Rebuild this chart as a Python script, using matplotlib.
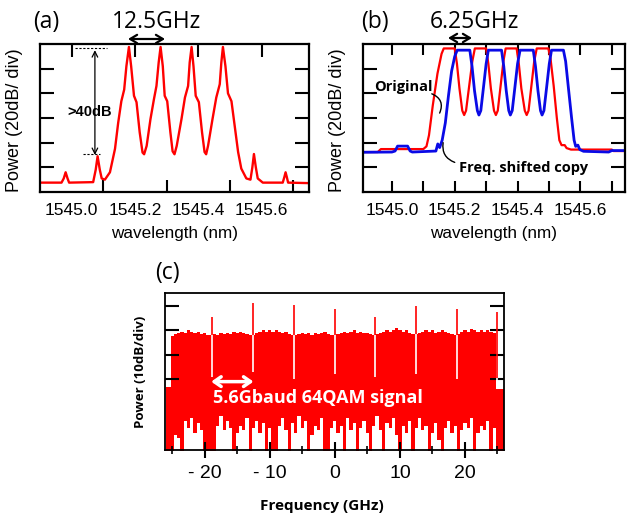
import numpy as np
import matplotlib
matplotlib.use("Agg")
import matplotlib.pyplot as plt

plt.rcParams['font.family'] = ['Liberation Sans', 'DejaVu Sans']

# (a) optical comb spectrum, power in divisions (20 dB/div)
wl_a = [1544.900, 1544.968, 1544.975, 1544.981, 1544.987, 1544.992, 1545.068, 1545.076,
        1545.082, 1545.089, 1545.095, 1545.105, 1545.121, 1545.137, 1545.147, 1545.157,
        1545.166, 1545.173, 1545.181, 1545.188, 1545.197, 1545.205, 1545.215, 1545.224,
        1545.229, 1545.237, 1545.249, 1545.260, 1545.268, 1545.275, 1545.281, 1545.288,
        1545.294, 1545.302, 1545.312, 1545.319, 1545.325, 1545.332, 1545.347, 1545.358,
        1545.368, 1545.373, 1545.379, 1545.385, 1545.392, 1545.402, 1545.412, 1545.420,
        1545.425, 1545.431, 1545.445, 1545.457, 1545.468, 1545.473, 1545.478, 1545.486,
        1545.494, 1545.505, 1545.515, 1545.526, 1545.536, 1545.552, 1545.565, 1545.571,
        1545.576, 1545.582, 1545.588, 1545.604, 1545.667, 1545.672, 1545.676, 1545.680,
        1545.684, 1545.750]
pw_a = [0.38, 0.38, 0.55, 0.80, 0.55, 0.38, 0.40, 0.90,
        1.45, 0.90, 0.55, 0.50, 0.80, 1.75, 2.80, 3.68,
        4.15, 5.10, 5.88, 5.10, 3.90, 3.64, 2.42, 1.60,
        1.53, 1.87, 2.95, 3.76, 4.30, 5.25, 5.88, 5.10,
        3.90, 3.68, 2.42, 1.65, 1.53, 1.87, 2.95, 3.83,
        4.30, 5.25, 5.88, 5.10, 3.90, 3.64, 2.42, 1.62,
        1.53, 1.87, 2.95, 3.83, 4.37, 5.25, 5.88, 5.10,
        4.00, 3.68, 2.70, 1.62, 0.95, 0.55, 0.50, 1.00,
        1.54, 1.00, 0.55, 0.38, 0.38, 0.60, 0.80, 0.60,
        0.38, 0.36]

# (b) original and frequency shifted copy
wl_orig = [1544.900, 1544.955, 1544.965, 1545.100, 1545.110, 1545.118, 1545.130, 1545.145,
           1545.158, 1545.165, 1545.200, 1545.207, 1545.215, 1545.224, 1545.230, 1545.236,
           1545.246, 1545.256, 1545.264, 1545.300, 1545.307, 1545.315, 1545.325, 1545.331,
           1545.337, 1545.346, 1545.355, 1545.362, 1545.397, 1545.404, 1545.412, 1545.423,
           1545.429, 1545.435, 1545.444, 1545.453, 1545.461, 1545.498, 1545.505, 1545.515,
           1545.525, 1545.533, 1545.540, 1545.550, 1545.556, 1545.570, 1545.700, 1545.705,
           1545.750]
pw_orig = [1.62, 1.62, 1.74, 1.74, 1.85, 2.30, 3.50, 4.80,
           5.60, 5.82, 5.82, 5.20, 4.20, 3.30, 3.12, 3.30,
           4.30, 5.30, 5.82, 5.82, 5.20, 4.20, 3.30, 3.12,
           3.30, 4.30, 5.30, 5.82, 5.82, 5.20, 4.20, 3.30,
           3.12, 3.30, 4.30, 5.30, 5.82, 5.82, 5.40, 4.30,
           3.00, 2.10, 1.90, 1.90, 1.78, 1.72, 1.72, 1.66,
           1.66]
wl_shift = [1544.900, 1545.000, 1545.010, 1545.018, 1545.050, 1545.058, 1545.065, 1545.140,
            1545.146, 1545.152, 1545.160, 1545.170, 1545.180, 1545.190, 1545.200, 1545.208,
            1545.248, 1545.255, 1545.263, 1545.272, 1545.277, 1545.283, 1545.292, 1545.300,
            1545.307, 1545.349, 1545.356, 1545.364, 1545.372, 1545.377, 1545.383, 1545.392,
            1545.400, 1545.408, 1545.450, 1545.457, 1545.465, 1545.473, 1545.478, 1545.484,
            1545.493, 1545.501, 1545.508, 1545.546, 1545.553, 1545.562, 1545.572, 1545.580,
            1545.585, 1545.592, 1545.598, 1545.610, 1545.690, 1545.700, 1545.750]
pw_shift = [1.61, 1.62, 1.66, 1.86, 1.86, 1.66, 1.62, 1.66,
            1.95, 1.80, 2.10, 2.80, 3.90, 4.90, 5.50, 5.75,
            5.75, 5.10, 4.10, 3.30, 3.12, 3.30, 4.30, 5.20,
            5.75, 5.75, 5.10, 4.10, 3.30, 3.12, 3.30, 4.30,
            5.20, 5.75, 5.75, 5.10, 4.10, 3.30, 3.12, 3.30,
            4.30, 5.20, 5.75, 5.75, 5.30, 4.20, 3.00, 2.10,
            1.85, 1.90, 1.72, 1.65, 1.62, 1.68, 1.68]

# (c) 64QAM electrical spectrum (dB), envelope sampled every 0.5 GHz
freq_ghz = np.arange(-26.0, 26.01, 0.5)
upper_db = [-33, -33, -12.5, -11.5, -11, -10.5, -11, -10, -10.5, -11,
            -10.5, -11.5, -11, -12, -12, -11.5, -12, -11, -11.5, -11,
            -11.5, -10.5, -11, -10.5, -11, -11.5, -12, -12, -11, -10.5,
            -10, -10.5, -10, -10.5, -10, -10.5, -11, -10.5, -11.5, -12,
            -12, -11.5, -11, -11.5, -11, -12, -11, -11.5, -11, -10.5,
            -11.5, -12, -12, -11.5, -11, -10.5, -11, -10.5, -10, -11,
            -10.5, -11, -11, -11.5, -12, -11.5, -11, -10.5, -10, -10.5,
            -10, -9, -10, -10.5, -10, -11, -11.5, -11.5, -11, -10.5,
            -10, -10.5, -10, -11, -10.5, -10, -10.5, -11, -11.5, -12,
            -11.5, -10.5, -10, -10.5, -9.5, -10, -10.5, -10, -10.5, -10,
            -10.5, -11, -34, -34, -34]
lower_db = [-60, -60, -60, -53, -54, -60, -47, -50, -46, -52,
            -48, -51, -60, -60, -60, -60, -49, -45, -51, -47,
            -50, -60, -52, -49, -51, -46, -60, -50, -47, -52,
            -48, -60, -50, -60, -60, -49, -46, -51, -60, -48,
            -52, -45, -50, -47, -60, -53, -49, -51, -46, -60,
            -60, -50, -47, -52, -49, -60, -46, -51, -48, -60,
            -50, -47, -52, -60, -49, -45, -51, -60, -48, -50,
            -46, -53, -60, -49, -52, -47, -60, -50, -46, -51,
            -49, -60, -52, -48, -55, -60, -50, -47, -52, -49,
            -60, -51, -48, -50, -46, -60, -52, -49, -51, -47,
            -60, -50, -60, -60, -60]
carrier_ghz = [-18.9, -12.6, -6.3, 0.0, 6.2, 12.4, 18.7, 24.9]
carrier_peak_db = [-4.6, 1.1, 0.4, -1.3, -4.4, 0.0, -1.2, -2.3]
notch_db = [-29, -27, -30, -28, -29, -28, -30, -34]

W, H = 627, 514
def fx(px):
    return px / W
def fy(py):
    return 1 - py / H

fig = plt.figure(figsize=(W / 100, H / 100), dpi=100)
ax_a = fig.add_axes([fx(40), fy(192), 269 / W, 148 / H])
ax_b = fig.add_axes([fx(362.7), fy(192), 262.3 / W, 148 / H])
ax_c = fig.add_axes([fx(165), fy(450), 339 / W, 157 / H])

major_wl = [1545.0, 1545.2, 1545.4, 1545.6]
minor_wl = [1545.1, 1545.3, 1545.5, 1545.7]
for ax in (ax_a, ax_b):
    ax.set_ylim(0, 6)
    ax.set_yticks([1, 2, 3, 4, 5])
    ax.set_xticks(major_wl)
    ax.set_xticklabels([f"{v:.1f}" for v in major_wl])
    ax.set_xticks(minor_wl, minor=True)
    ax.tick_params(axis='y', direction='in', left=True, right=True, length=10, width=1.5,
                   labelleft=False)
    for s in ax.spines.values():
        s.set_linewidth(1.6)

# (a)
ax_a.plot(wl_a, pw_a, color='#ff0000', lw=1.7)
ax_a.set_xlim(1544.90, 1545.75)
ax_a.tick_params(axis='x', which='major', direction='in', top=True, bottom=False,
                 length=9, width=1.5, labelsize=12.5, pad=8)
ax_a.tick_params(axis='x', which='minor', direction='in', top=False, bottom=True,
                 length=9, width=1.5)
ax_a.plot([1545.011, 1545.111], [5.82, 5.82], color='black', lw=0.8, ls=(0, (2, 1.5)))
ax_a.plot([1545.036, 1545.089], [1.53, 1.53], color='black', lw=0.8, ls=(0, (2, 1.5)))
ax_a.annotate('', xy=(1545.0735, 5.75), xytext=(1545.0735, 1.5),
              arrowprops=dict(arrowstyle='<->', lw=0.9, color='black',
                              shrinkA=0, shrinkB=0))
ax_a.text(1545.058, 3.24, '>40dB', ha='center', va='center', fontsize=10.5,
          fontweight='bold')

# (b)
ax_b.plot(wl_orig, pw_orig, color='#ff0000', lw=1.6)
ax_b.plot(wl_shift, pw_shift, color='#0a0ae6', lw=2)
ax_b.set_xlim(1544.907, 1545.742)
ax_b.tick_params(axis='x', which='both', direction='in', top=True, bottom=True,
                 length=8, width=1.5, labelsize=12.5, pad=8)
ax_b.text(1545.035, 4.25, 'Original', ha='center', va='center', fontsize=10.5,
          fontweight='bold', family='Open Sans')
ax_b.annotate('', xy=(1545.152, 3.2), xytext=(1545.127, 3.98),
              arrowprops=dict(arrowstyle='-', lw=1, color='black',
                              connectionstyle='arc3,rad=-0.5', shrinkA=0, shrinkB=0))
ax_b.text(1545.419, 0.97, 'Freq. shifted copy', ha='center', va='center',
          fontsize=10.5, fontweight='bold', family='Open Sans')
ax_b.annotate('', xy=(1545.163, 2.0), xytext=(1545.2, 1.2),
              arrowprops=dict(arrowstyle='-', lw=1, color='black',
                              connectionstyle='arc3,rad=-0.4', shrinkA=0, shrinkB=0))

# (c)
ax_c.fill_between(freq_ghz, lower_db, upper_db, step='mid', color='#ff0000', lw=0)
plateau = np.interp(carrier_ghz, freq_ghz, upper_db)
ax_c.vlines(carrier_ghz, notch_db, plateau, color='white', lw=1.2)
ax_c.vlines(carrier_ghz, plateau, carrier_peak_db, color='#ff0000', lw=1.2)
ax_c.set_xlim(-26.1, 26.0)
ax_c.set_ylim(-59, 5.3)
ax_c.set_xticks([-20, -10, 0, 10, 20])
ax_c.set_xticklabels(['- 20', '- 10', '0', '10', '20'])
ax_c.set_xticks([-25, -15, -5, 5, 15, 25], minor=True)
ax_c.tick_params(axis='x', which='major', direction='inout', length=12, width=1.5,
                 labelsize=14, pad=5)
ax_c.tick_params(axis='x', which='minor', direction='inout', length=6, width=1.2)
ax_c.set_yticks([-30, -20, -10, 0])
ax_c.tick_params(axis='y', direction='in', left=True, right=True, length=10, width=1.5,
                 labelleft=False)
for s in ax_c.spines.values():
    s.set_linewidth(1.3)
ax_c.annotate('', xy=(-12.5, -31.0), xytext=(-19.0, -31.0),
              arrowprops=dict(arrowstyle='<->,head_length=0.5,head_width=0.35',
                              lw=2.5, color='white', shrinkA=0, shrinkB=0))
ax_c.text(-2.65, -39.9, '5.6Gbaud 64QAM signal', ha='center', va='baseline',
          color='white', fontsize=13, fontweight='bold', family='Open Sans')

# panel titles and axis labels
cal = dict(family='Open Sans', fontsize=16.5, va='baseline', ha='center')
fig.text(fx(46), fy(28), '(a)', **cal)
fig.text(fx(157), fy(28), '12.5GHz', **cal)
fig.text(fx(375), fy(28), '(b)', **cal)
fig.text(fx(474), fy(28), '6.25GHz', **cal)
fig.text(fx(167), fy(279), '(c)', **cal)

for xc in (15, 338):
    fig.text(fx(xc), fy(120), 'Power (20dB/ div)', rotation=90, ha='center',
             va='center', fontsize=13)
for xc in (175, 494):
    fig.text(fx(xc), fy(238), 'wavelength (nm)', ha='center', va='baseline',
             fontsize=12.3)
fig.text(fx(140), fy(372), 'Power (10dB/div)', rotation=90, ha='center', va='center',
         fontsize=9.5, fontweight='bold', family='Open Sans')
fig.text(fx(322), fy(510), 'Frequency (GHz)', ha='center', va='baseline',
         fontsize=11, fontweight='bold', family='Open Sans')

# spacing arrows above (a) and (b)
arr = dict(arrowstyle='<->,head_length=0.5,head_width=0.3', lw=1.6, color='black',
           shrinkA=0, shrinkB=0)
fig.add_artist(plt.Annotation('', xy=(fx(165), fy(39)), xytext=(fx(128), fy(39)),
                              xycoords='figure fraction', arrowprops=arr))
fig.add_artist(plt.Annotation('', xy=(fx(472), fy(38)), xytext=(fx(448), fy(38)),
                              xycoords='figure fraction', arrowprops=arr))

fig.savefig('out.png', dpi=100)
